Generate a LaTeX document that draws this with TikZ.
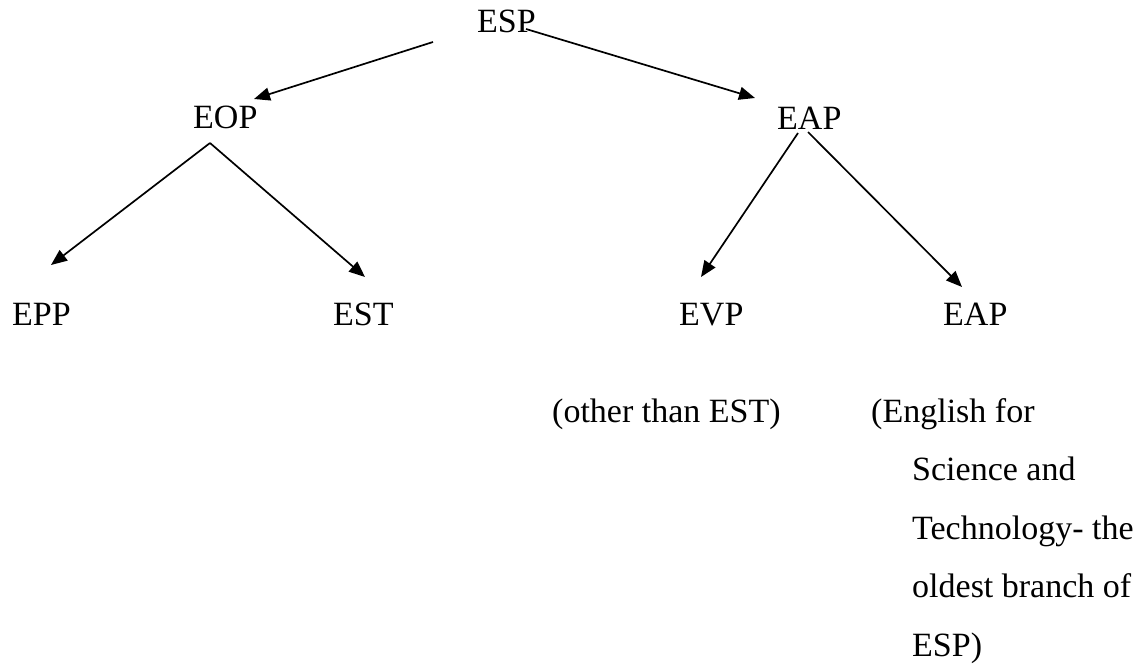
\documentclass[tikz,border=0pt]{standalone}
\usepackage{fontspec}
\setmainfont{Liberation Serif}
\usetikzlibrary{arrows.meta}
\begin{document}
\begin{tikzpicture}[x=1pt,y=-1pt,
  lbl/.style={inner sep=0pt, anchor=base west, font=\fontsize{34}{58.5}\selectfont},
  arr/.style={line width=1.7pt, -{Triangle[length=16pt,width=13pt]}}]
\useasboundingbox (0,0) rectangle (1146,666);
% nodes
\node[lbl] (esp)  at (477,33)  {ESP};
\node[lbl] (eop)  at (193,129) {EOP};
\node[lbl] (eap)  at (777,130) {EAP};
\node[lbl] (epp)  at (12,325)  {EPP};
\node[lbl] (est)  at (333,325) {EST};
\node[lbl] (evp)  at (679,325) {EVP};
\node[lbl] (eapb) at (943,325) {EAP};
\node[lbl] (other) at (552,422) {(other than EST)};
\node[lbl] (estnote) at (871,422) {\parbox[t]{275pt}{\raggedright
  (English for\\
  \hspace*{41pt}Science and\\
  \hspace*{41pt}Technology- the\\
  \hspace*{41pt}oldest branch of\\
  \hspace*{41pt}ESP)}};
% connector ends
\coordinate (espL) at (433,42);
\coordinate (espR) at (526,29);
\coordinate (eopIn) at (254,99);
\coordinate (eapIn) at (755,98);
\coordinate (eopOut) at (210,143);
\coordinate (eppIn) at (51,265);
\coordinate (estIn) at (365,277);
\coordinate (eapOutL) at (798,133);
\coordinate (eapOutR) at (808,132);
\coordinate (evpIn) at (701,277);
\coordinate (eapbIn) at (962,287);
% connectors
\draw[arr] (espL) -- (eopIn);
\draw[arr] (espR) -- (eapIn);
\draw[arr] (eopOut) -- (eppIn);
\draw[arr] (eopOut) -- (estIn);
\draw[arr] (eapOutL) -- (evpIn);
\draw[arr] (eapOutR) -- (eapbIn);
\end{tikzpicture}
\end{document}
